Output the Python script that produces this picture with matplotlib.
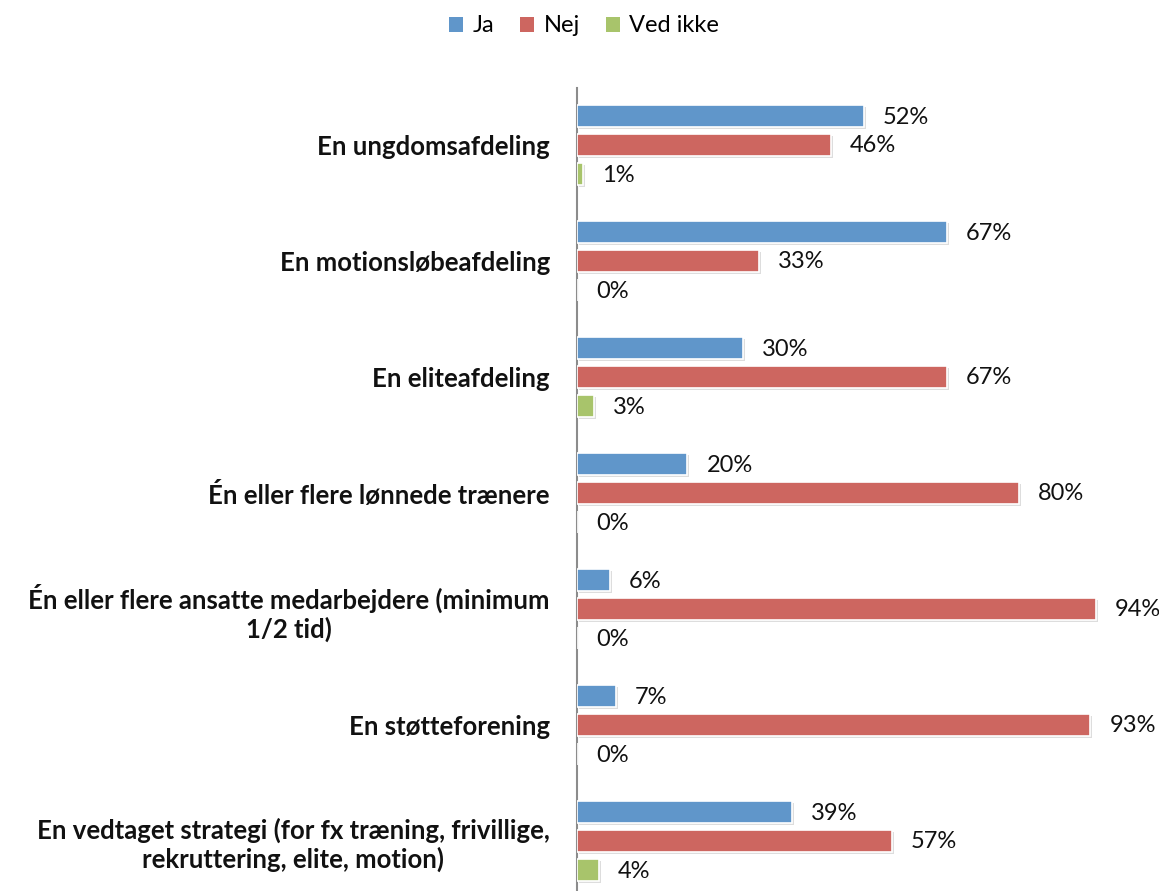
import matplotlib
matplotlib.use("Agg")
import matplotlib.pyplot as plt
import matplotlib.patheffects as pe
import numpy as np

categories = [
    "En ungdomsafdeling",
    "En motionsløbeafdeling",
    "En eliteafdeling",
    "Én eller flere lønnede trænere",
    "Én eller flere ansatte medarbejdere (minimum\n1/2 tid)",
    "En støtteforening",
    "En vedtaget strategi (for fx træning, frivillige,\nrekruttering, elite, motion)",
]
series_names = ["Ja", "Nej", "Ved ikke"]
ja = [52, 67, 30, 20, 6, 7, 39]
nej = [46, 33, 67, 80, 94, 93, 57]
ved_ikke = [1, 0, 3, 0, 0, 0, 4]
colors = ["#6096CA", "#CD6660", "#A8C46B"]

plt.rcParams['font.family'] = ['Lato', 'DejaVu Sans']

W, H = 1159, 891
fig = plt.figure(figsize=(W / 100, H / 100), dpi=100)
ax = fig.add_axes([577 / W, 0, (1129 - 577) / W, 1 - 88 / H])

y = np.arange(len(categories))
offsets = [-0.25, 0.0, 0.25]
bh = 0.19
shadow = [pe.SimplePatchShadow(offset=(1.5, -1.5), shadow_rgbFace='#A0A0A0', alpha=0.35), pe.Normal()]
handles = []
for vals, off, col, name in zip([ja, nej, ved_ikke], offsets, colors, series_names):
    bars = ax.barh(y + off, vals, height=bh, color=col, edgecolor='white', linewidth=1.2,
                   label=name, zorder=3)
    for b in bars:
        b.set_path_effects(shadow)
    handles.append(bars)
    for yy, v in zip(y + off, vals):
        ax.annotate(f"{v}%", xy=(v, yy), xytext=(19, -1), textcoords='offset pixels',
                    va='center', ha='left', fontsize=17, color='#111111', clip_on=False)

ax.set_xlim(0, 100)
ax.set_ylim(6 + 50 / 116, -57 / 116)
ax.set_yticks(y)
ax.set_yticklabels(categories, fontsize=18.5, fontweight='bold', color='#111111')
for lab in ax.get_yticklabels():
    lab.set_multialignment('center')
    lab.set_linespacing(1.15)
ax.tick_params(axis='y', length=0, pad=19.5)
ax.set_xticks([])
for s in ['top', 'right', 'bottom']:
    ax.spines[s].set_visible(False)
ax.spines['left'].set_color('#8C8C8C')
ax.spines['left'].set_linewidth(1.5)

leg = fig.legend(handles=handles, labels=series_names, loc='center', bbox_to_anchor=(584 / W, 1 - 26 / H),
                 ncol=3, frameon=False, fontsize=17, handlelength=0.6, handleheight=0.6,
                 handletextpad=0.4, columnspacing=1.1)
for h in leg.legend_handles:
    h.set_path_effects([])
    h.set_edgecolor('none')

fig.savefig("out.png", dpi=100)
